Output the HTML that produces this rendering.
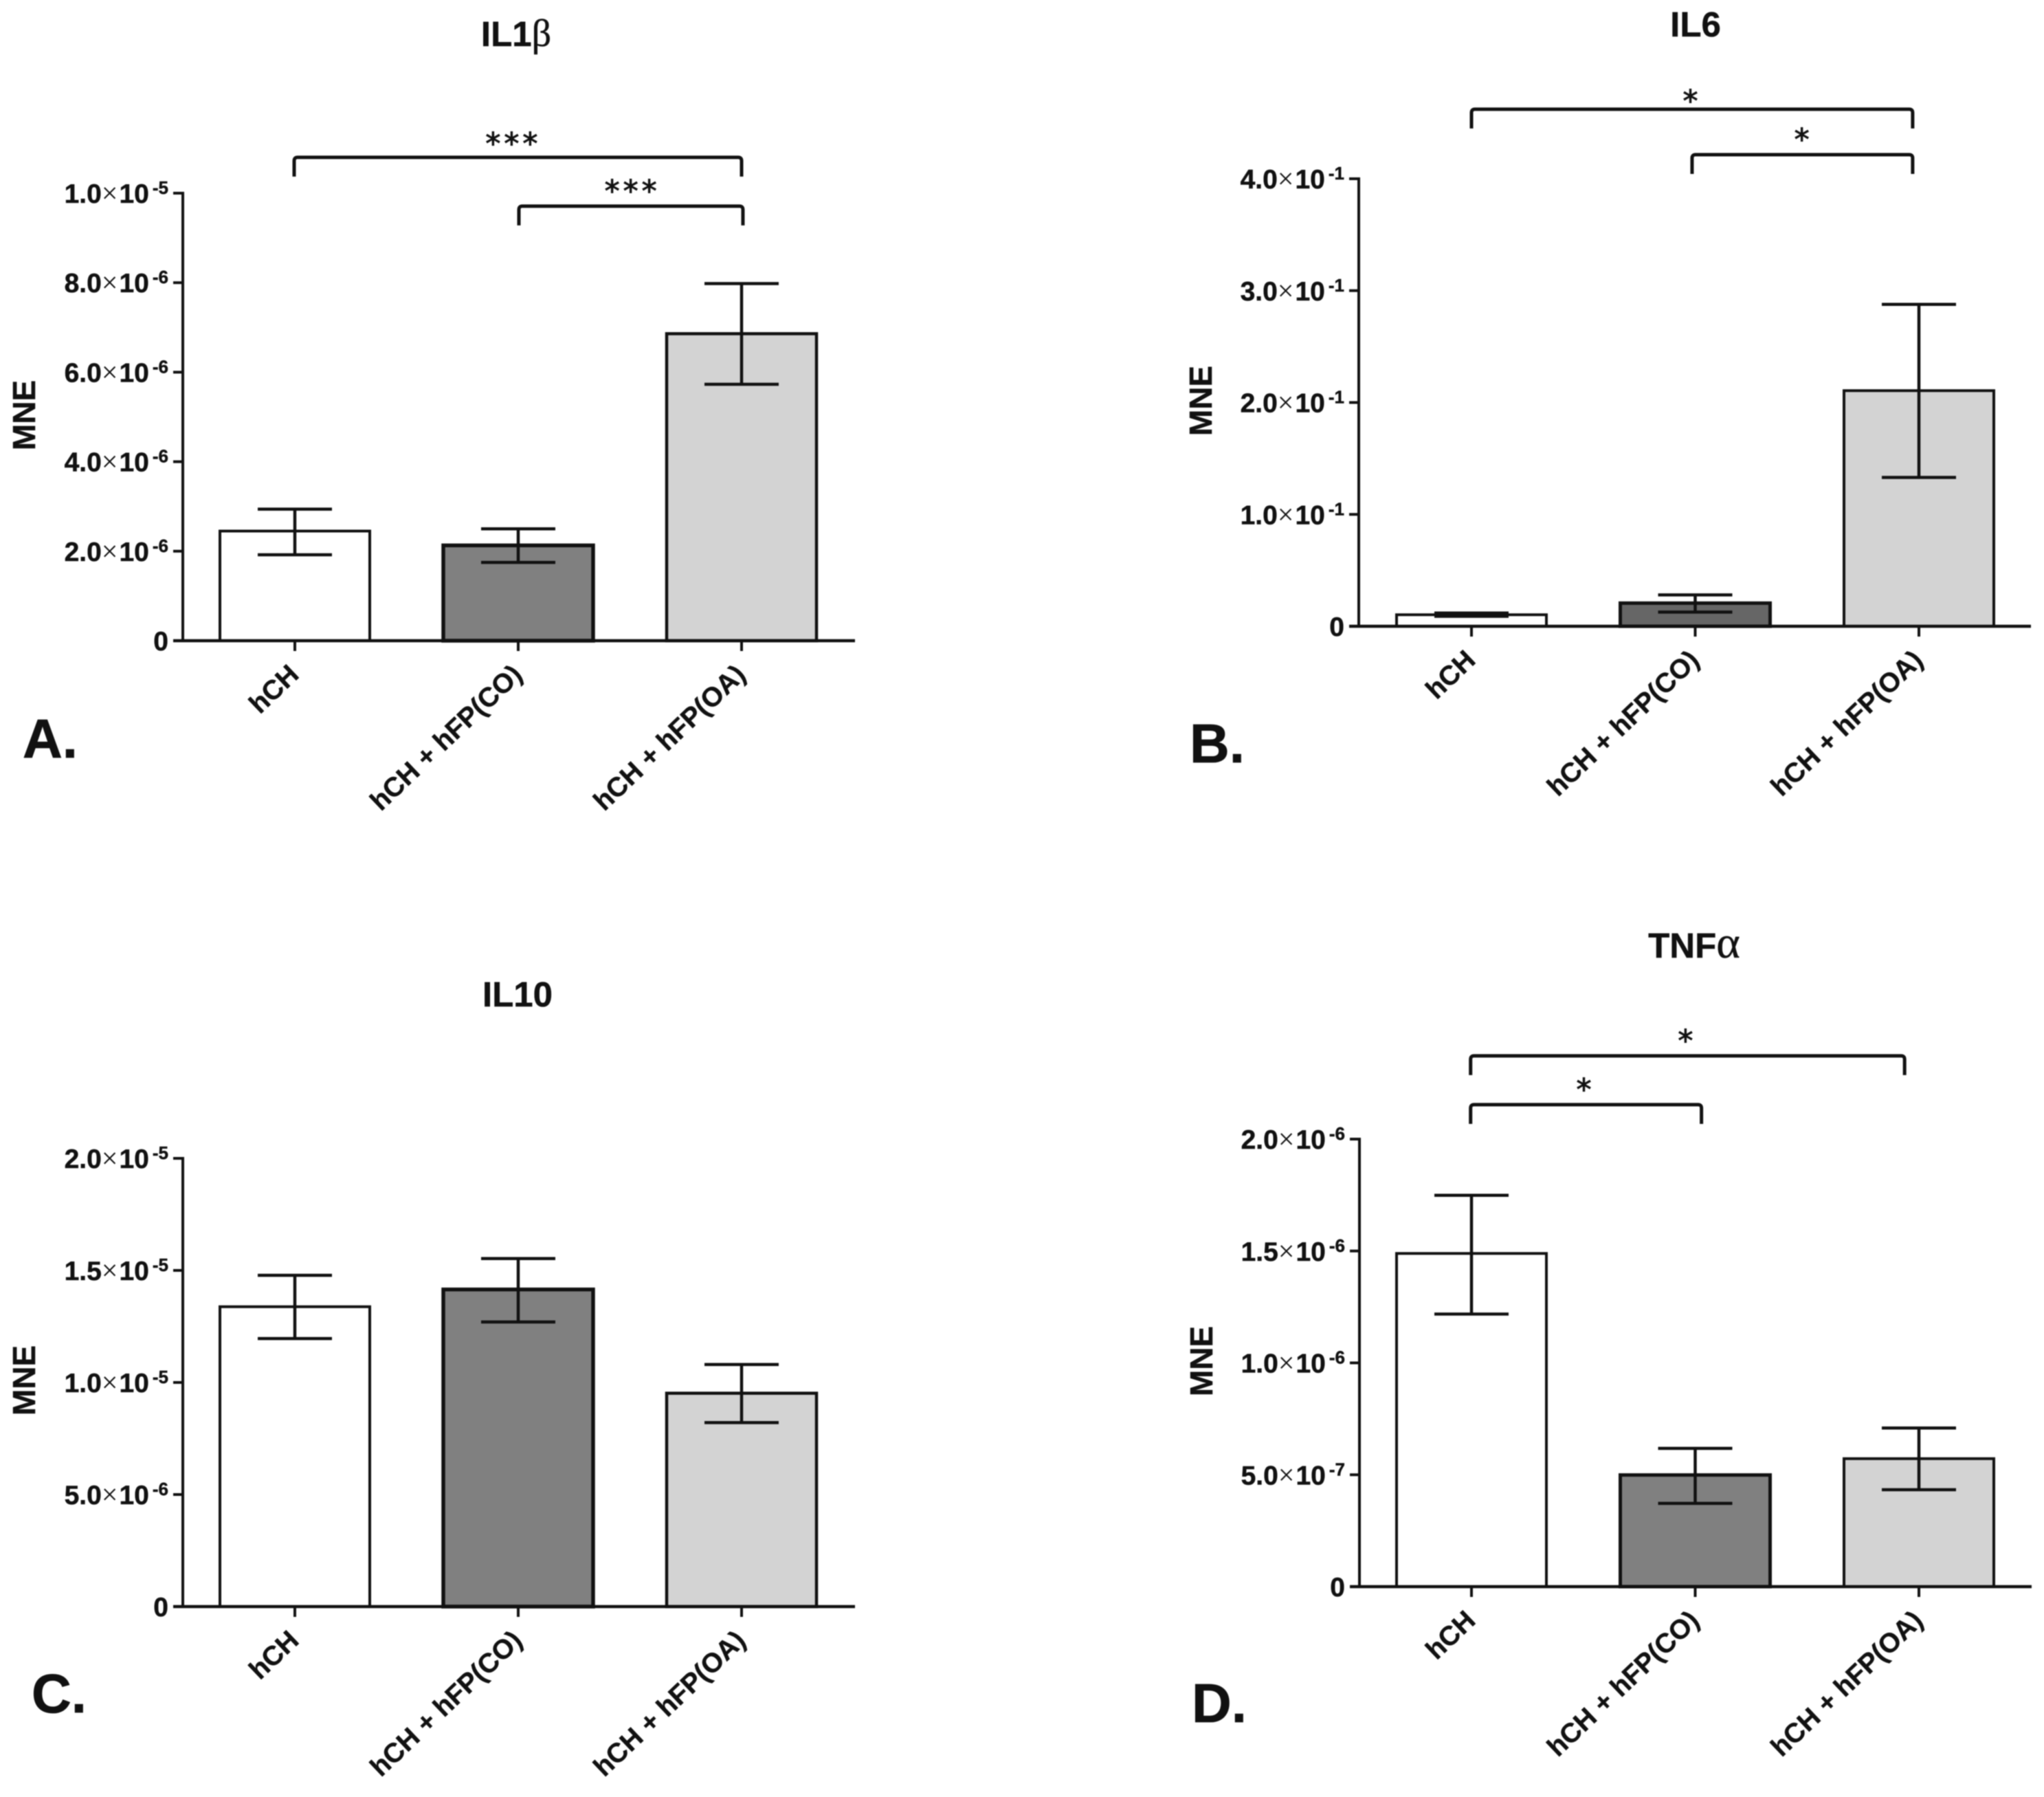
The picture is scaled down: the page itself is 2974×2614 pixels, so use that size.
<!DOCTYPE html>
<html lang="en">
<head>
<meta charset="utf-8">
<title>Cytokine expression MNE bar charts</title>
<style>
html,body{margin:0;padding:0;background:#fff;}
svg{display:block;filter:blur(0.9px);}
text{font-family:"Liberation Sans",sans-serif;fill:#111;}
.tick{font-size:39px;font-weight:700;stroke:#111;stroke-width:0.5px;}
.cat{font-size:39.5px;font-weight:700;stroke:#111;stroke-width:0.4px;}
.title{font-size:51px;font-weight:700;text-anchor:middle;stroke:#111;stroke-width:0.5px;}
.ylab{font-size:46px;font-weight:700;text-anchor:middle;stroke:#111;stroke-width:0.5px;}
.letter{font-size:80px;font-weight:700;stroke:#111;stroke-width:0.8px;}
.star{font-family:"DejaVu Sans",sans-serif;font-size:44px;text-anchor:middle;letter-spacing:5px;stroke:#111;stroke-width:1px;}
.greek{font-family:"Liberation Serif",serif;font-weight:400;font-size:56px;}
</style>
</head>
<body>
<svg id="fig" xmlns="http://www.w3.org/2000/svg" width="2974" height="2614" viewBox="0 0 2974 2614">
  <rect x="0" y="0" width="2974" height="2614" fill="#fff"/>
  <g id="panelA">
    <text class="title" x="751" y="67">IL1<tspan class="greek">β</tspan></text>
    <text class="ylab" transform="translate(51 604) rotate(-90)">MNE</text>
    <text class="letter" x="33" y="1102">A.</text>
  </g>
  <g id="panelB">
    <text class="title" x="2467" y="53">IL6</text>
    <text class="ylab" transform="translate(1763 583) rotate(-90)">MNE</text>
    <text class="letter" x="1731" y="1109">B.</text>
  </g>
  <g id="panelC">
    <text class="title" x="753" y="1464">IL10</text>
    <text class="ylab" transform="translate(51 2008) rotate(-90)">MNE</text>
    <text class="letter" x="46" y="2491">C.</text>
  </g>
  <g id="panelD">
    <text class="title" x="2465" y="1393">TNF<tspan class="greek" style="font-size:66px">α</tspan></text>
    <text class="ylab" transform="translate(1764 1980) rotate(-90)">MNE</text>
    <text class="letter" x="1734" y="2505">D.</text>
  </g>
</svg>
<script>
// Shared category names
const categories = ['hCH', 'hCH + hFP(CO)', 'hCH + hFP(OA)'];

// Panel A - IL1β
const aMeans = [2.45e-6, 2.13e-6, 6.86e-6];
const aErrUpper = [2.94e-6, 2.50e-6, 7.98e-6];
const aErrLower = [1.92e-6, 1.75e-6, 5.73e-6];
const aTickValues = [0, 2e-6, 4e-6, 6e-6, 8e-6, 1e-5];
const aTickMantissas = ['0', '2.0', '4.0', '6.0', '8.0', '1.0'];
const aTickExponents = ['', '-6', '-6', '-6', '-6', '-5'];
const aBracketFrom = [-0.003, 1.003];
const aBracketTo = [2, 2.006];
const aBracketLevel = [1.08e-5, 0.971e-5];
const aStarAt = [0.972, 1.505];
const aStarLevel = [1.12e-5, 1.014e-5];
const aStarLabels = ['***', '***'];

// Panel B - IL6
const bMeans = [0.0103, 0.0207, 0.2106];
const bErrUpper = [0.0118, 0.028, 0.2877];
const bErrLower = [0.0089, 0.0127, 0.133];
const bTickValues = [0, 0.1, 0.2, 0.3, 0.4];
const bTickMantissas = ['0', '1.0', '2.0', '3.0', '4.0'];
const bTickExponents = ['', '-1', '-1', '-1', '-1'];
const bBracketFrom = [0, 0.986];
const bBracketTo = [1.972, 1.972];
const bBracketLevel = [0.4621, 0.4215];
const bStarAt = [0.98, 1.478];
const bStarLevel = [0.4731, 0.4387];
const bStarLabels = ['*', '*'];

// Panel C - IL10
const cMeans = [1.338e-5, 1.415e-5, 0.952e-5];
const cErrUpper = [1.478e-5, 1.553e-5, 1.08e-5];
const cErrLower = [1.196e-5, 1.27e-5, 0.821e-5];
const cTickValues = [0, 5e-6, 1e-5, 1.5e-5, 2e-5];
const cTickMantissas = ['0', '5.0', '1.0', '1.5', '2.0'];
const cTickExponents = ['', '-6', '-5', '-5', '-5'];
const cBracketFrom = [];
const cBracketTo = [];
const cBracketLevel = [];
const cStarAt = [];
const cStarLevel = [];
const cStarLabels = [];

// Panel D - TNFα
const dMeans = [1.489e-6, 4.99e-7, 5.72e-7];
const dErrUpper = [1.749e-6, 6.18e-7, 7.09e-7];
const dErrLower = [1.218e-6, 3.72e-7, 4.33e-7];
const dTickValues = [0, 5e-7, 1e-6, 1.5e-6, 2e-6];
const dTickMantissas = ['0', '5.0', '1.0', '1.5', '2.0'];
const dTickExponents = ['', '-7', '-6', '-6', '-6'];
const dBracketFrom = [-0.004, -0.004];
const dBracketTo = [1.936, 1.028];
const dBracketLevel = [2.372e-6, 2.154e-6];
const dStarAt = [0.958, 0.504];
const dStarLevel = [2.458e-6, 2.24e-6];
const dStarLabels = ['*', '*'];

const SVGNS = 'http://www.w3.org/2000/svg';
function make(parent, tag, attrs, text) {
  const node = document.createElementNS(SVGNS, tag);
  for (const k in attrs) node.setAttribute(k, attrs[k]);
  if (text !== undefined) node.textContent = text;
  parent.appendChild(node);
  return node;
}

function drawPanel(id, frame, d) {
  const g = document.getElementById(id);
  const ink = '#111';
  const yMax = d.ticks[d.ticks.length - 1];
  const yScale = v => frame.base - (v / yMax) * (frame.base - frame.top);
  const xScale = c => frame.x0 + c * frame.step;

  // bars
  d.means.forEach((v, i) => {
    const y = yScale(v);
    const el = make(g, 'rect', {
      x: xScale(i) - 109, y: y, width: 218, height: frame.base - y,
      fill: frame.fills[i], stroke: ink, 'stroke-width': frame.strokes[i]
    });
    
    
  });

  // error bars
  d.means.forEach((v, i) => {
    const cx = xScale(i);
    const hi = yScale(d.upper[i]);
    const lo = yScale(d.lower[i]);
    const el = make(g, 'path', {
      d: 'M' + (cx - 54) + ' ' + hi + 'H' + (cx + 54) + 'M' + cx + ' ' + hi + 'V' + lo + 'M' + (cx - 54) + ' ' + lo + 'H' + (cx + 54),
      fill: 'none', stroke: ink, 'stroke-width': 4.5
    });
    
    
  });

  // y axis line
  const yAxis = make(g, 'line', {
    x1: frame.axis, x2: frame.axis, y1: frame.top - 2, y2: frame.base + 2, stroke: ink, 'stroke-width': 4
  });
  
  

  // x axis line
  const xAxis = make(g, 'line', {
    x1: frame.axis - 14, x2: frame.axis + 978, y1: frame.base, y2: frame.base, stroke: ink, 'stroke-width': 4.5
  });
  
  

  // y ticks and labels
  d.ticks.forEach((v, i) => {
    const y = yScale(v);
    const tick = make(g, 'line', {
      x1: frame.axis - 14, x2: frame.axis, y1: y, y2: y, stroke: ink, 'stroke-width': 4
    });
    
    

    const label = make(g, 'text', { class: 'tick', x: frame.axis - 21, y: y + 14, 'text-anchor': 'end' });
    
    
    if (d.exps[i] === '') {
      label.textContent = d.mant[i];
    } else {
      make(label, 'tspan', {}, d.mant[i]);
      make(label, 'tspan', { 'font-family': '"Liberation Serif",serif', 'font-weight': 400, 'font-size': 42, 'stroke-width': 0 }, '×');
      make(label, 'tspan', { dx: 2 }, '10');
      make(label, 'tspan', { 'font-size': 26, dx: 5, dy: -13 }, d.exps[i]);
    }
  });

  // x ticks and category labels
  categories.forEach((name, i) => {
    const x = xScale(i);
    const tick = make(g, 'line', {
      x1: x, x2: x, y1: frame.base, y2: frame.base + 15, stroke: ink, 'stroke-width': 4
    });
    
    

    const lx = x + 8;
    const ly = frame.base + 52;
    const label = make(g, 'text', {
      class: 'cat', 'text-anchor': 'end', transform: 'translate(' + lx + ' ' + ly + ') rotate(-43.5)'
    }, name);
    
    
  });

  // significance brackets
  d.brFrom.forEach((from, i) => {
    const x1 = xScale(from);
    const x2 = xScale(d.brTo[i]);
    const y = yScale(d.brLevel[i]);
    const foot = 28;
    const r = 5;
    const br = make(g, 'path', {
      d: 'M' + x1 + ' ' + (y + foot) + 'V' + (y + r) + 'Q' + x1 + ' ' + y + ' ' + (x1 + r) + ' ' + y +
         'H' + (x2 - r) + 'Q' + x2 + ' ' + y + ' ' + x2 + ' ' + (y + r) + 'V' + (y + foot),
      fill: 'none', stroke: ink, 'stroke-width': 5
    });
    
    

    const star = make(g, 'text', {
      class: 'star', x: xScale(d.starAt[i]) + 2, y: yScale(d.starLevel[i]) + 21
    }, d.starLabels[i]);
    
    
  });
}

drawPanel('panelA', { axis: 266, x0: 429, step: 325, top: 281, base: 932, fills: ['#fff', '#808080', '#d3d3d3'], strokes: [4, 5.5, 4.5] }, {
  means: aMeans, upper: aErrUpper, lower: aErrLower, ticks: aTickValues, mant: aTickMantissas, exps: aTickExponents,
  brFrom: aBracketFrom, brTo: aBracketTo, brLevel: aBracketLevel, starAt: aStarAt, starLevel: aStarLevel, starLabels: aStarLabels
});
drawPanel('panelB', { axis: 1977, x0: 2141, step: 325.5, top: 260, base: 911, fills: ['#fff', '#666', '#d3d3d3'], strokes: [4, 5, 4] }, {
  means: bMeans, upper: bErrUpper, lower: bErrLower, ticks: bTickValues, mant: bTickMantissas, exps: bTickExponents,
  brFrom: bBracketFrom, brTo: bBracketTo, brLevel: bBracketLevel, starAt: bStarAt, starLevel: bStarLevel, starLabels: bStarLabels
});
drawPanel('panelC', { axis: 266, x0: 429, step: 325, top: 1685, base: 2337, fills: ['#fff', '#808080', '#d3d3d3'], strokes: [4, 5.5, 4.5] }, {
  means: cMeans, upper: cErrUpper, lower: cErrLower, ticks: cTickValues, mant: cTickMantissas, exps: cTickExponents,
  brFrom: cBracketFrom, brTo: cBracketTo, brLevel: cBracketLevel, starAt: cStarAt, starLevel: cStarLevel, starLabels: cStarLabels
});
drawPanel('panelD', { axis: 1978, x0: 2141, step: 325.5, top: 1657, base: 2308, fills: ['#fff', '#808080', '#d3d3d3'], strokes: [4, 5, 4] }, {
  means: dMeans, upper: dErrUpper, lower: dErrLower, ticks: dTickValues, mant: dTickMantissas, exps: dTickExponents,
  brFrom: dBracketFrom, brTo: dBracketTo, brLevel: dBracketLevel, starAt: dStarAt, starLevel: dStarLevel, starLabels: dStarLabels
});
</script>
</body>
</html>
